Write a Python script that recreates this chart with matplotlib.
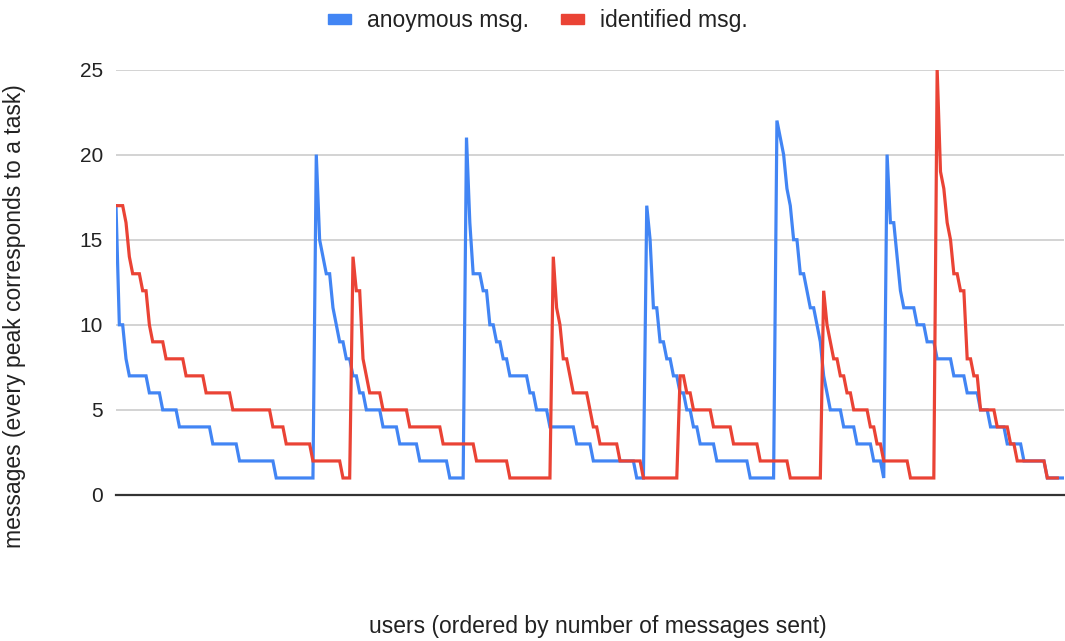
import numpy as np
import matplotlib
matplotlib.use("Agg")
import matplotlib.pyplot as plt
from matplotlib.patches import Patch

plt.rcParams['font.family'] = ['Liberation Sans', 'DejaVu Sans']

# messages per user as (value, number of consecutive users)
anon_values = [17, 10, 8, 7, 6, 5, 4, 3, 2, 1,
               20, 15, 14, 13, 11, 10, 9, 8, 7, 6, 5, 4, 3, 2, 1,
               21, 16, 13, 12, 10, 9, 8, 7, 6, 5, 4, 3, 2, 1,
               17, 15, 11, 9, 8, 7, 6, 5, 4, 3, 2, 1,
               22, 21, 20, 18, 17, 15, 13, 12, 11, 10, 9, 7, 6, 5, 4, 3, 2, 1,
               20, 16, 14, 12, 11, 10, 9, 8, 7, 6, 5, 4, 3, 2, 1]
anon_counts = [1, 2, 1, 6, 4, 5, 10, 8, 11, 12,
               1, 1, 1, 2, 1, 1, 2, 2, 2, 2, 5, 5, 6, 9, 5,
               1, 1, 3, 2, 2, 2, 2, 6, 2, 4, 8, 5, 13, 3,
               1, 1, 2, 2, 2, 2, 2, 2, 2, 5, 10, 8,
               1, 1, 1, 1, 1, 2, 2, 1, 2, 1, 1, 1, 1, 4, 4, 5, 3, 1,
               1, 2, 1, 1, 4, 3, 3, 5, 4, 4, 3, 5, 5, 7, 6]

ident_values = [17, 16, 14, 13, 12, 10, 9, 8, 7, 6, 5, 4, 3,
                2, 1, 14, 12, 8, 7, 6, 5, 4, 3, 2, 1,
                14, 11, 10, 8, 7, 6, 5, 4, 3, 2, 1,
                7, 6, 5, 4, 3, 2, 1,
                12, 10, 9, 8, 7, 6, 5, 4, 3, 2, 1,
                25, 19, 18, 16, 15, 13, 12, 8, 7, 5, 4, 3, 2, 1]
ident_counts = [3, 1, 1, 3, 2, 1, 4, 6, 6, 8, 12, 4, 8,
                9, 3, 1, 2, 1, 1, 4, 8, 10, 10, 10, 13,
                1, 1, 1, 2, 1, 5, 1, 2, 6, 7, 11,
                2, 2, 6, 6, 8, 9, 10,
                1, 1, 1, 2, 2, 2, 5, 2, 2, 8, 8,
                1, 1, 1, 1, 1, 2, 2, 2, 2, 5, 4, 2, 9, 4]

y_ticks = [0, 5, 10, 15, 20, 25]

anon = np.repeat(anon_values, anon_counts)
ident = np.repeat(ident_values, ident_counts)

blue = '#4285F4'
red = '#EA4335'
text_col = '#222222'

fig = plt.figure(figsize=(10.65, 6.41), dpi=100)
ax = fig.add_axes([116 / 1065, 1 - 495 / 641, 948 / 1065, (495 - 69.5) / 641])

ax.plot(np.arange(len(anon)), anon, color=blue, lw=2.3, solid_joinstyle='miter')
ax.plot(np.arange(len(ident)), ident, color=red, lw=2.3, solid_joinstyle='miter')

ax.set_xlim(0, len(anon) - 1)
ax.set_ylim(0, 25)
ax.set_yticks(y_ticks)
ax.set_xticks([])
ax.tick_params(axis='y', length=0, pad=9.5, labelsize=15, labelcolor=text_col)
ax.grid(axis='y', color='#cccccc', lw=1.2)
ax.set_axisbelow(True)
for side in ['top', 'right', 'left']:
    ax.spines[side].set_visible(False)
ax.spines['bottom'].set_color('#333333')
ax.spines['bottom'].set_linewidth(1.6)
ax.spines['bottom'].set_zorder(5)

fig.text(15 / 1065, 1 - 316 / 641, 'messages (every peak corresponds to a task)',
         rotation=90, ha='center', va='center', fontsize=16.5, color=text_col)
fig.text(598 / 1065, 1 - 627 / 641, 'users (ordered by number of messages sent)',
         ha='center', va='center', fontsize=16.5, color=text_col)

handles = [Patch(color=blue, label='anoymous msg.'), Patch(color=red, label='identified msg.')]
fig.legend(handles=handles, loc='center', bbox_to_anchor=(538 / 1065, 1 - 21 / 641), ncol=2,
           frameon=False, fontsize=16.5, handlelength=1.0, handleheight=0.3,
           handletextpad=0.7, columnspacing=1.4, labelcolor=text_col,
           borderpad=0, borderaxespad=0)

fig.savefig('out.png', dpi=100)
